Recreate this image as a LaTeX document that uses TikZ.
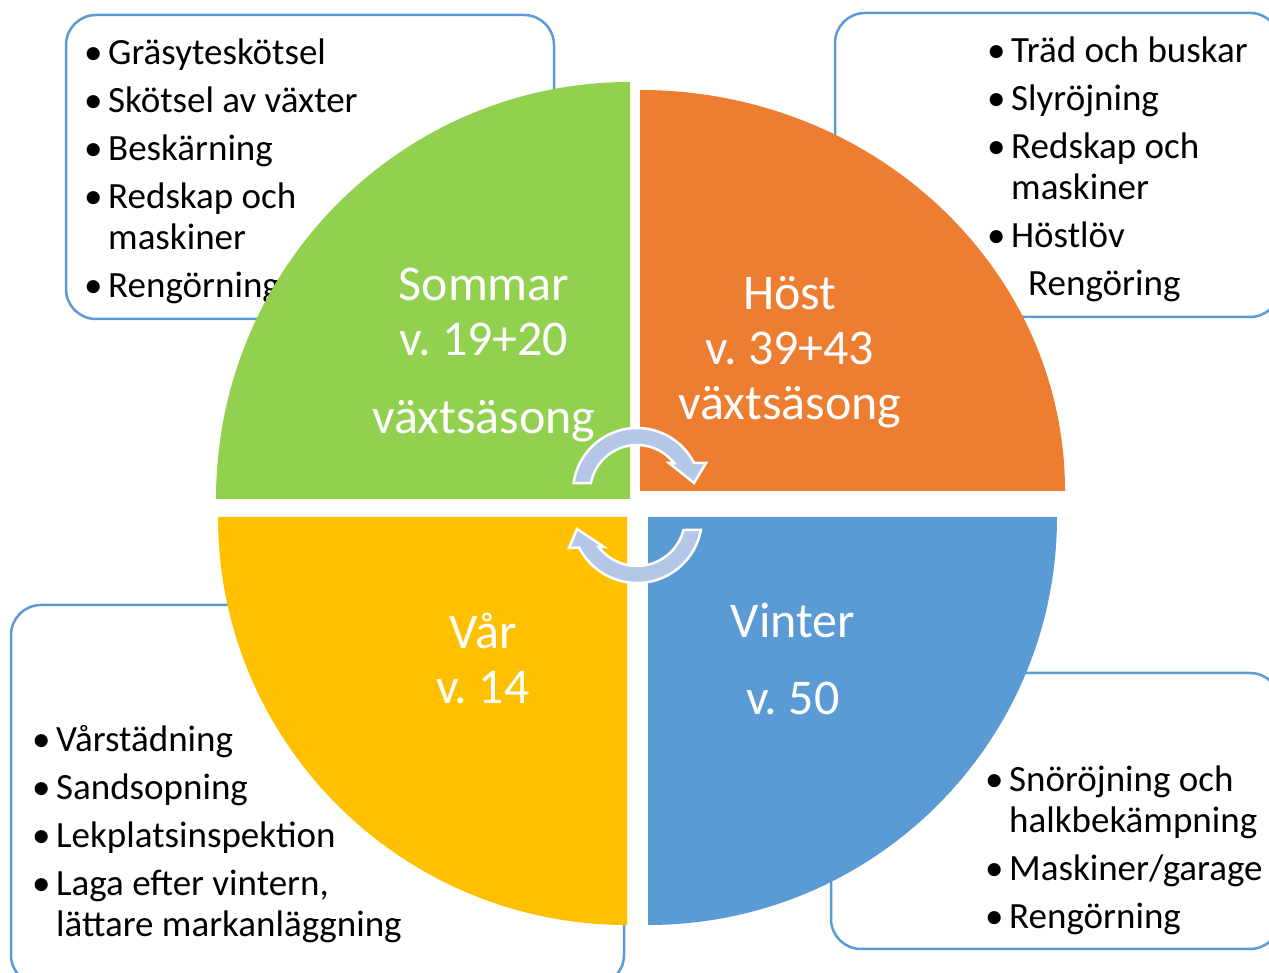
\documentclass[tikz,border=0pt]{standalone}
\usepackage{fontspec}
\setmainfont{Carlito}
\usetikzlibrary{positioning}
\definecolor{sommarGreen}{HTML}{92D050}
\definecolor{hostOrange}{HTML}{ED7D31}
\definecolor{varYellow}{HTML}{FFC000}
\definecolor{vinterBlue}{HTML}{5B9BD5}
\definecolor{boxBlue}{HTML}{5B9BD5}
\definecolor{cycleBlue}{HTML}{B4C7E7}
\newcommand\bul[1]{\noindent\hangindent=24pt\hangafter=1\makebox[24pt][l]{•}#1\par}

\begin{document}
\begin{tikzpicture}[x=1pt,y=1pt]
\tikzset{myBox/.style={draw=boxBlue,line width=2.5pt,rounded corners=30pt,fill=white,inner sep=0pt}}
\tikzset{myList/.style={anchor=base west,inner sep=0pt,text width=600pt,align=left,font=\fontsize{37}{41}\selectfont,execute at begin node={\setlength{\parskip}{7pt}\setlength{\parindent}{0pt}\spaceskip=0.226em\relax}}}
\tikzset{myLabel/.style={text=white,font=\fontsize{50}{55}\selectfont,align=center,inner sep=0pt,execute at begin node={\frenchspacing\spaceskip=0.226em\relax}}}
\tikzset{myCycle/.style={fill=cycleBlue,draw=white,line width=2.5pt}}

\useasboundingbox (0,0) rectangle (1269,973);
\clip (0,0) rectangle (1269,973);

% boxes with the tasks
\node[myBox,minimum width=488,minimum height=304] (boxSommar) at (310,806) {};
\node[myBox,minimum width=445,minimum height=304] (boxHost) at (1057.5,808) {};
\node[myBox,minimum width=613,minimum height=380] (boxVar) at (317.5,178) {};
\node[myBox,minimum width=449,minimum height=276] (boxVinter) at (1055.5,162) {};

\node[myList] (listSommar) at (84,908) {\bul{Gräsyteskötsel}\bul{Skötsel av växter}\bul{Beskärning}\bul{Redskap och\newline maskiner}\bul{Rengörning}};
\node[myList] (listHost) at (987,910) {\bul{Träd och buskar}\bul{Slyröjning}\bul{Redskap och\newline maskiner}\bul{Höstlöv}\noindent\hspace*{41pt}Rengöring\par};
\node[myList] (listVar) at (32,221) {\bul{Vårstädning}\bul{Sandsopning}\bul{Lekplatsinspektion}\bul{Laga efter vintern,\newline lättare markanläggning}};
\node[myList] (listVinter) at (985,181) {\bul{Snöröjning och\newline halkbekämpning}\bul{Maskiner/garage}\bul{Rengörning}};

% the four seasons
\fill[sommarGreen] (630,474) -- (216,474) arc[start angle=180,end angle=90,x radius=414,y radius=417] -- cycle;
\fill[hostOrange] (640,482) -- (640,883) arc[start angle=90,end angle=0,x radius=425,y radius=401] -- cycle;
\fill[varYellow] (627,456) -- (627,48) arc[start angle=-90,end angle=-180,x radius=409,y radius=408] -- cycle;
\fill[vinterBlue] (648,456) -- (1057,456) arc[start angle=0,end angle=-90,x radius=409,y radius=408] -- cycle;

\node[myLabel] (lblSommar) at (484,618) {Sommar\\v. 19+20\\[23pt]växtsäsong};
\node[myLabel] (lblHost) at (790,621) {Höst\\v. 39+43\\växtsäsong};
\node[myLabel] (lblVar) at (483,315) {Vår\\v. 14};
\node[myLabel] (lblVinter) at (793,314) {Vinter\\[22pt]v. 50};

% cycle arrows
\begin{scope}[shift={(637,481)}]
\path[myCycle] (172:64) arc[start angle=172,end angle=27,radius=64] -- (69,29) -- (57,9) -- (32,29) -- (38:47) arc[start angle=38,end angle=169,radius=47] -- cycle;
\end{scope}
\begin{scope}[shift={(637,455)}]
\path[myCycle] (-10.6:65) arc[start angle=-10.6,end angle=-153,radius=65] -- (-68,-30) -- (-60,-11) -- (-33,-29) -- (-143:48) arc[start angle=-143,end angle=-14.5,radius=48] -- cycle;
\end{scope}
\end{tikzpicture}
\end{document}
